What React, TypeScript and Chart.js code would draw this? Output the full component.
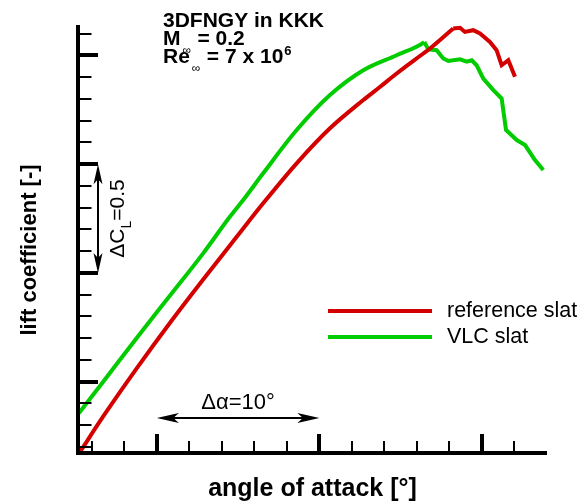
import React, { useEffect, useRef } from "react";
import { Chart, registerables } from "chart.js";
Chart.register(...registerables);

// ---- data (angle of attack in degrees, lift coefficient) ----
const redAlpha = [-4.7, -3.3, -1.25, 0.8, 2.85, 4.9, 6.54, 8.6, 10.65, 12.7, 13.72, 14.75, 16.39, 16.8, 18.23, 18.65, 18.95, 19.46, 19.88, 20.49, 20.9, 21.21, 21.62, 22.03];
const redCL = [0.18, 0.34, 0.56, 0.77, 0.97, 1.165, 1.32, 1.504, 1.665, 1.795, 1.855, 1.917, 2.009, 2.032, 2.124, 2.127, 2.108, 2.116, 2.101, 2.062, 2.024, 1.955, 1.978, 1.902];
const greenAlpha = [-4.8, -3.3, -1.25, 0.8, 2.85, 4.49, 5.31, 6.54, 8.6, 10.65, 12.7, 14.75, 16.39, 16.45, 16.7, 17.21, 17.62, 17.93, 18.65, 19.06, 19.37, 19.67, 20.08, 20.7, 21.21, 21.48, 22.14, 22.65, 23.26, 23.77];
const greenCL = [0.355, 0.5, 0.7, 0.895, 1.09, 1.258, 1.335, 1.458, 1.657, 1.818, 1.932, 2.001, 2.058, 2.062, 2.028, 2.024, 1.986, 1.975, 1.982, 1.971, 1.978, 1.955, 1.894, 1.841, 1.802, 1.657, 1.611, 1.588, 1.519, 1.473];
// index where the smooth (linear-range) part ends and the jagged stall part begins
const redStallIndex = 14;
const greenStallIndex = 13;
const seriesLabels = ["reference slat", "VLC slat"];
const seriesColors = ["#d40000", "#00cc00"];

// ---- axis ticks ----
const xMajorTicks = [0, 10, 20];
const xMinorTicks = [-4, -2, 2, 4, 6, 8, 12, 14, 16, 18, 22];
const yMajorTicks = [0.5, 1.0, 1.5, 2.0];
const yMinorTicks = [0.2, 0.3, 0.4, 0.6, 0.7, 0.8, 0.9, 1.1, 1.2, 1.3, 1.4, 1.6, 1.7, 1.8, 1.9, 2.1];
const xRange = [-4.85, 24];
const yRange = [0.172, 2.14];

const FONT = "'Liberation Sans', Arial, Helvetica, sans-serif";

function arrowHead(ctx: CanvasRenderingContext2D, tipX: number, tipY: number, dx: number, dy: number, len: number, half: number) {
  const bx = tipX - dx * len;
  const by = tipY - dy * len;
  const px = -dy, py = dx;
  ctx.beginPath();
  ctx.moveTo(tipX, tipY);
  ctx.lineTo(bx + px * half, by + py * half);
  ctx.lineTo(bx + dx * len * 0.25, by + dy * len * 0.25);
  ctx.lineTo(bx - px * half, by - py * half);
  ctx.closePath();
  ctx.fill();
}

function subLine(ctx: CanvasRenderingContext2D, x: number, y: number, base: string, rest: string, sup?: string) {
  ctx.font = `bold 21px ${FONT}`;
  ctx.fillText(base, x, y);
  const wb = ctx.measureText(base).width;
  ctx.font = `12px ${FONT}`;
  ctx.fillText("\u221e", x + wb + 2, y + 9);
  ctx.font = `bold 21px ${FONT}`;
  const rx = x + wb + 17;
  ctx.fillText(rest, rx, y);
  if (sup) {
    const wr = ctx.measureText(rest).width;
    ctx.font = `bold 13px ${FONT}`;
    ctx.fillText(sup, rx + wr + 1, y - 8);
  }
}

const decorPlugin = {
  id: "decor",
  afterDatasetsDraw(chart: any) {
    const ctx: CanvasRenderingContext2D = chart.ctx;
    const xs = chart.scales.x;
    const ys = chart.scales.y;
    const ca = chart.chartArea;
    ctx.save();
    ctx.fillStyle = "#000";
    ctx.strokeStyle = "#000";
    ctx.lineCap = "butt";

    // axes
    ctx.lineWidth = 4;
    ctx.beginPath();
    ctx.moveTo(ca.left, ca.top);
    ctx.lineTo(ca.left, ca.bottom + 2);
    ctx.moveTo(ca.left - 2, ca.bottom);
    ctx.lineTo(ca.right, ca.bottom);
    ctx.stroke();

    // x ticks
    ctx.lineWidth = 2;
    ctx.beginPath();
    for (const v of xMinorTicks) {
      const px = Math.round(xs.getPixelForValue(v));
      ctx.moveTo(px, ca.bottom);
      ctx.lineTo(px, ca.bottom - 12);
    }
    ctx.stroke();
    ctx.lineWidth = 4;
    ctx.beginPath();
    for (const v of xMajorTicks) {
      const px = Math.round(xs.getPixelForValue(v));
      ctx.moveTo(px, ca.bottom);
      ctx.lineTo(px, ca.bottom - 19);
    }
    ctx.stroke();

    // y ticks
    ctx.lineWidth = 2;
    ctx.beginPath();
    for (const v of yMinorTicks) {
      const py = Math.round(ys.getPixelForValue(v));
      ctx.moveTo(ca.left, py);
      ctx.lineTo(ca.left + 13.5, py);
    }
    ctx.stroke();
    ctx.lineWidth = 4;
    ctx.beginPath();
    for (const v of yMajorTicks) {
      const py = Math.round(ys.getPixelForValue(v));
      ctx.moveTo(ca.left, py);
      ctx.lineTo(ca.left + 20, py);
    }
    ctx.stroke();

    // Delta CL arrow
    const ax = ca.left + 20;
    const yTop = ys.getPixelForValue(1.5);
    const yBot = ys.getPixelForValue(1.0);
    ctx.lineWidth = 2;
    ctx.beginPath();
    ctx.moveTo(ax, yTop + 10);
    ctx.lineTo(ax, yBot - 10);
    ctx.stroke();
    arrowHead(ctx, ax, yTop, 0, -1, 20, 4.5);
    arrowHead(ctx, ax, yBot, 0, 1, 20, 4.5);

    // Delta CL text (rotated)
    ctx.save();
    ctx.translate(ca.left + 40, (yTop + yBot) / 2);
    ctx.rotate(-Math.PI / 2);
    ctx.textBaseline = "middle";
    const p1 = "\u0394C";
    const p3 = "=0.5";
    ctx.font = `14px ${FONT}`;
    const wL = ctx.measureText("L").width;
    ctx.font = `21px ${FONT}`;
    const w1 = ctx.measureText(p1).width;
    const w3 = ctx.measureText(p3).width;
    const total = w1 + wL + w3;
    let tx = -total / 2;
    ctx.textAlign = "left";
    ctx.fillText(p1, tx, 0);
    tx += w1;
    ctx.font = `14px ${FONT}`;
    ctx.fillText("L", tx, 9);
    tx += wL;
    ctx.font = `21px ${FONT}`;
    ctx.fillText(p3, tx, 0);
    ctx.restore();

    // Delta alpha arrow
    const x0 = xs.getPixelForValue(0);
    const x10 = xs.getPixelForValue(10);
    const ay = ca.bottom - 35;
    ctx.lineWidth = 2;
    ctx.beginPath();
    ctx.moveTo(x0 + 10, ay);
    ctx.lineTo(x10 - 10, ay);
    ctx.stroke();
    arrowHead(ctx, x0, ay, -1, 0, 22, 5);
    arrowHead(ctx, x10, ay, 1, 0, 22, 5);
    ctx.font = `22px ${FONT}`;
    ctx.textAlign = "center";
    ctx.textBaseline = "alphabetic";
    ctx.fillText("\u0394\u03b1=10\u00b0", (x0 + x10) / 2, ay - 9);

    // title block
    ctx.textAlign = "left";
    ctx.textBaseline = "alphabetic";
    ctx.font = `bold 21px ${FONT}`;
    ctx.fillText("3DFNGY in KKK", 163, 27);
    subLine(ctx, 163, 45, "M", "= 0.2");
    subLine(ctx, 163, 63, "Re", "= 7 x 10", "6");

    // legend
    for (let i = 0; i < seriesLabels.length; i++) {
      const ly = 311 + i * 26;
      ctx.strokeStyle = seriesColors[i];
      ctx.lineWidth = 4;
      ctx.beginPath();
      ctx.moveTo(328, ly);
      ctx.lineTo(432, ly);
      ctx.stroke();
      ctx.fillStyle = "#000";
      ctx.font = `21.5px ${FONT}`;
      ctx.textAlign = "left";
      ctx.textBaseline = "alphabetic";
      ctx.fillText(seriesLabels[i], 447, ly + 6);
    }

    // axis titles
    ctx.fillStyle = "#000";
    ctx.textAlign = "center";
    ctx.textBaseline = "middle";
    ctx.font = `bold 25px ${FONT}`;
    ctx.fillText("angle of attack [\u00b0]", (ca.left + ca.right) / 2, 489);
    ctx.save();
    ctx.font = `bold 22px ${FONT}`;
    ctx.translate(30, 250);
    ctx.rotate(-Math.PI / 2);
    ctx.fillText("lift coefficient [-]", 0, 0);
    ctx.restore();

    ctx.restore();
  },
};

export default function App() {
  const ref = useRef<HTMLCanvasElement | null>(null);
  useEffect(() => {
    if (!ref.current) return;
    const mk = (alpha: number[], cl: number[], i: number, from: number, to: number, smooth: boolean) => ({
      label: seriesLabels[i],
      data: alpha.slice(from, to).map((a, k) => ({ x: a, y: cl[from + k] })),
      borderColor: seriesColors[i],
      borderWidth: 4,
      pointRadius: 0,
      fill: false,
      tension: 0,
      cubicInterpolationMode: smooth ? ("monotone" as const) : ("default" as const),
      clip: false as any,
    });
    const chart = new Chart(ref.current, {
      type: "line",
      data: {
        datasets: [
          mk(redAlpha, redCL, 0, 0, redStallIndex + 1, true),
          mk(redAlpha, redCL, 0, redStallIndex, redAlpha.length, false),
          mk(greenAlpha, greenCL, 1, 0, greenStallIndex + 1, true),
          mk(greenAlpha, greenCL, 1, greenStallIndex, greenAlpha.length, false),
        ],
      },
      options: {
        animation: false,
        responsive: false,
        devicePixelRatio: 1,
        layout: { padding: { left: 78, right: 35, top: 25, bottom: 51 } },
        scales: {
          x: { type: "linear", min: xRange[0], max: xRange[1], display: false },
          y: { type: "linear", min: yRange[0], max: yRange[1], display: false },
        },
        plugins: { legend: { display: false }, tooltip: { enabled: false }, title: { display: false } },
        events: [],
      },
      plugins: [decorPlugin],
    });
    return () => chart.destroy();
  }, []);
  return (
    <div style={{ position: "fixed", left: 0, top: 0, width: 582, height: 504, background: "#fff" }}>
      <canvas ref={ref} width={582} height={504} style={{ width: 582, height: 504 }} />
    </div>
  );
}
